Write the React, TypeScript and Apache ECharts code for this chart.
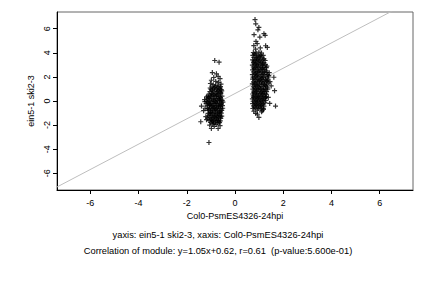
import React, { useEffect, useRef } from "react";
import * as echarts from "echarts";

const xTicks = [-6, -4, -2, 0, 2, 4, 6];
const yTicks = [-6, -4, -2, 0, 2, 4, 6];
const slope = 1.05;
const intercept = 0.62;
const xTitle = "Col0-PsmES4326-24hpi";
const yTitle = "ein5-1 ski2-3";
const subtitle1 = "yaxis: ein5-1 ski2-3, xaxis: Col0-PsmES4326-24hpi";
const subtitle2 = "Correlation of module: y=1.05x+0.62, r=0.61  (p-value:5.600e-01)";

const clusterA: number[][] = [
  [-0.84, 3.36], [-0.66, 3.22], [-0.94, 2.36], [-0.77, 2.25], [-0.7, 2.05], [-0.88, 1.95], [-0.62, 1.85],
  [-0.98, 1.72], [-0.8, 1.62], [-0.68, 1.55], [-1.02, 1.45], [-0.58, 1.4], [-0.9, 1.35], [-0.74, 1.3],
  [-1.39, -0.42], [-1.42, -1.72], [-1.25, -0.06], [-1.3, -0.8], [-1.18, 0.35], [-1.21, -1.3],
  [-1.08, -3.44], [-0.98, -2.28], [-0.7, -2.28], [-0.86, -2.1], [-0.62, -2.05], [-1.05, -2.0], [-0.78, -1.95], [-0.92, -1.9],
  [-0.95, 1.18], [-0.82, 1.22], [-0.71, 1.15], [-0.6, 1.2],
  [-1.0, 0.98], [-0.88, 1.04], [-0.77, 0.96], [-0.66, 1.02], [-0.57, 0.95],
  [-1.04, 0.78], [-0.93, 0.83], [-0.84, 0.76], [-0.73, 0.81], [-0.63, 0.77], [-0.55, 0.84],
  [-1.08, 0.58], [-0.97, 0.62], [-0.89, 0.55], [-0.79, 0.63], [-0.69, 0.57], [-0.59, 0.61],
  [-1.12, 0.42], [-1.01, 0.37], [-0.91, 0.44], [-0.82, 0.38], [-0.74, 0.43], [-0.64, 0.36], [-0.54, 0.41],
  [-1.15, 0.18], [-1.05, 0.22], [-0.96, 0.16], [-0.86, 0.23], [-0.77, 0.17], [-0.67, 0.21], [-0.58, 0.15],
  [-1.17, -0.02], [-1.07, 0.03], [-0.99, -0.04], [-0.9, 0.02], [-0.81, -0.03], [-0.72, 0.04], [-0.62, -0.01], [-0.53, 0.03],
  [-1.2, -0.22], [-1.1, -0.18], [-1.01, -0.23], [-0.93, -0.17], [-0.84, -0.21], [-0.75, -0.19], [-0.65, -0.24], [-0.56, -0.18],
  [-1.16, -0.41], [-1.06, -0.37], [-0.97, -0.43], [-0.88, -0.38], [-0.79, -0.42], [-0.7, -0.36], [-0.61, -0.44], [-0.52, -0.39],
  [-1.13, -0.62], [-1.03, -0.57], [-0.94, -0.63], [-0.85, -0.58], [-0.76, -0.61], [-0.67, -0.56], [-0.58, -0.64],
  [-1.1, -0.78], [-1.0, -0.83], [-0.91, -0.77], [-0.82, -0.82], [-0.73, -0.79], [-0.64, -0.84], [-0.55, -0.77],
  [-1.12, -1.02], [-1.02, -0.97], [-0.93, -1.03], [-0.84, -0.98], [-0.75, -1.04], [-0.66, -0.96], [-0.57, -1.01],
  [-1.09, -1.22], [-0.99, -1.18], [-0.9, -1.24], [-0.81, -1.17], [-0.72, -1.23], [-0.63, -1.19], [-0.55, -1.25],
  [-1.14, -1.41], [-1.04, -1.37], [-0.95, -1.43], [-0.86, -1.38], [-0.77, -1.42], [-0.68, -1.36], [-0.59, -1.44],
  [-1.07, -1.62], [-0.97, -1.57], [-0.88, -1.63], [-0.79, -1.58], [-0.7, -1.61], [-0.61, -1.65],
  [-1.01, -1.78], [-0.9, -1.83], [-0.81, -1.76], [-0.72, -1.81], [-0.64, -1.79],
  [-1.03, 1.08], [-0.85, 1.12], [-0.62, 1.08], [-0.95, 0.9], [-0.7, 0.88], [-0.59, 0.7], [-0.99, 0.5], [-0.76, 0.5],
  [-0.6, 0.28], [-1.1, 0.3], [-0.88, 0.1], [-0.64, 0.09], [-1.13, -0.1], [-0.79, -0.12], [-0.58, -0.3], [-1.05, -0.3],
  [-0.9, -0.5], [-0.69, -0.48], [-1.08, -0.7], [-0.8, -0.7], [-0.6, -0.9], [-0.96, -0.92], [-0.7, -1.1], [-1.05, -1.1],
  [-0.85, -1.3], [-0.6, -1.32], [-1.0, -1.5], [-0.74, -1.5], [-0.92, -1.7], [-0.67, -1.7], [-1.18, -1.55], [-1.24, -0.6],
  [-1.26, 0.12], [-0.5, -0.1], [-0.51, -0.6],
];

const clusterB: number[][] = [
  [0.83, 6.75], [0.86, 6.4], [0.99, 6.1], [0.95, 5.9], [0.79, 5.5], [1.03, 5.3], [1.2, 5.58], [1.25, 5.45],
  [0.87, 4.94], [0.92, 4.75], [1.27, 4.58], [1.34, 4.44], [0.78, 4.6], [1.05, 4.4], [0.85, 4.3],
  [1.61, 1.97], [1.64, 0.86], [1.68, -0.42], [1.45, 1.6], [1.5, 1.25], [1.42, 2.35], [1.38, 0.3], [1.44, -0.2],
  [0.86, -1.03], [0.99, -1.36], [0.78, -0.85], [1.1, -0.9], [0.93, -1.1], [1.18, -0.7],
  [0.76, 4.02], [0.88, 3.97], [0.99, 4.05], [1.1, 3.98],
  [0.74, 3.78], [0.84, 3.83], [0.95, 3.76], [1.06, 3.82], [1.17, 3.79],
  [0.78, 3.62], [0.89, 3.57], [1.0, 3.63], [1.12, 3.58],
  [0.73, 3.41], [0.83, 3.37], [0.94, 3.43], [1.05, 3.38], [1.16, 3.42], [1.25, 3.36],
  [0.77, 3.18], [0.87, 3.23], [0.98, 3.17], [1.09, 3.22], [1.2, 3.19],
  [0.72, 2.98], [0.82, 3.03], [0.92, 2.97], [1.03, 3.02], [1.14, 2.96], [1.26, 3.01],
  [0.76, 2.82], [0.86, 2.77], [0.97, 2.83], [1.08, 2.78], [1.19, 2.81], [1.3, 2.76],
  [0.73, 2.58], [0.83, 2.62], [0.93, 2.57], [1.04, 2.63], [1.15, 2.59], [1.24, 2.61],
  [0.77, 2.42], [0.88, 2.37], [0.98, 2.43], [1.09, 2.38], [1.2, 2.41], [1.32, 2.37],
  [0.72, 2.18], [0.82, 2.23], [0.93, 2.17], [1.03, 2.22], [1.13, 2.16], [1.23, 2.21], [1.35, 2.19],
  [0.75, 1.98], [0.86, 2.03], [0.96, 1.97], [1.07, 2.02], [1.18, 1.96], [1.28, 2.01], [1.38, 1.99],
  [0.73, 1.82], [0.84, 1.77], [0.94, 1.83], [1.05, 1.78], [1.15, 1.82], [1.26, 1.76], [1.36, 1.81],
  [0.77, 1.58], [0.88, 1.63], [0.99, 1.57], [1.1, 1.62], [1.21, 1.59], [1.31, 1.64],
  [0.72, 1.42], [0.82, 1.37], [0.92, 1.43], [1.02, 1.38], [1.12, 1.42], [1.23, 1.36], [1.33, 1.41],
  [0.76, 1.18], [0.87, 1.23], [0.97, 1.17], [1.08, 1.22], [1.19, 1.16], [1.29, 1.21],
  [0.74, 0.98], [0.85, 1.03], [0.95, 0.97], [1.06, 1.02], [1.16, 0.96], [1.27, 1.01], [1.36, 0.99],
  [0.78, 0.82], [0.89, 0.77], [1.0, 0.83], [1.11, 0.78], [1.22, 0.81], [1.31, 0.77],
  [0.73, 0.58], [0.83, 0.63], [0.94, 0.57], [1.04, 0.62], [1.15, 0.59], [1.25, 0.63],
  [0.76, 0.42], [0.87, 0.37], [0.98, 0.43], [1.09, 0.38], [1.19, 0.41], [1.29, 0.36],
  [0.72, 0.18], [0.82, 0.23], [0.93, 0.17], [1.03, 0.22], [1.14, 0.16], [1.24, 0.21],
  [0.75, -0.02], [0.86, 0.03], [0.96, -0.03], [1.07, 0.02], [1.18, -0.01], [1.28, 0.04],
  [0.73, -0.22], [0.84, -0.17], [0.94, -0.23], [1.05, -0.18], [1.16, -0.21],
  [0.77, -0.41], [0.88, -0.37], [0.98, -0.43], [1.09, -0.38], [1.2, -0.42],
  [0.74, -0.62], [0.85, -0.57], [0.96, -0.63], [1.07, -0.58], [1.17, -0.61],
  [0.8, 3.9], [1.03, 3.7], [0.9, 3.5], [1.2, 3.5], [0.78, 3.3], [1.0, 3.3], [1.14, 3.1], [0.87, 3.1],
  [1.32, 2.9], [0.9, 2.9], [1.13, 2.7], [0.79, 2.7], [1.29, 2.5], [1.0, 2.5], [0.85, 2.3], [1.16, 2.3],
  [1.4, 2.1], [0.9, 2.1], [1.1, 1.9], [0.8, 1.9], [1.33, 1.7], [1.0, 1.7], [0.82, 1.5], [1.16, 1.5],
  [1.4, 1.5], [0.92, 1.3], [1.25, 1.3], [1.03, 1.1], [0.8, 1.1], [1.34, 1.1], [1.18, 0.9], [0.9, 0.9],
  [0.78, 0.7], [1.08, 0.7], [1.3, 0.55], [0.88, 0.5], [1.13, 0.5], [0.99, 0.3], [1.26, 0.28], [0.77, 0.3],
  [1.12, 0.1], [0.9, 0.1], [0.8, -0.1], [1.02, -0.1], [1.24, -0.15], [0.9, -0.3], [1.12, -0.3], [0.8, -0.5],
  [1.03, -0.5], [0.92, -0.75], [1.13, -0.8],
];

const AX_MIN = -7.38;
const AX_MAX = 7.38;
const FONT = "'Liberation Sans', Arial, Helvetica, sans-serif";
const PLUS =
  "path://M-0.12,-0.5L0.12,-0.5L0.12,-0.12L0.5,-0.12L0.5,0.12L0.12,0.12L0.12,0.5L-0.12,0.5L-0.12,0.12L-0.5,0.12L-0.5,-0.12L-0.12,-0.12Z";

export default function App() {
  const ref = useRef<HTMLDivElement>(null);
  useEffect(() => {
    if (!ref.current) return;
    const chart = echarts.init(ref.current, null, { renderer: "svg" });
    const lineX = [-8, 8];
    const fitLine = lineX.map((x) => [x, slope * x + intercept]);
    chart.setOption({
      animation: false,
      backgroundColor: "#ffffff",
      textStyle: { fontFamily: FONT },
      grid: {
        left: 57,
        top: 12,
        width: 356,
        height: 178,
        show: true,
        borderColor: "#666666",
        borderWidth: 1,
        backgroundColor: "transparent",
      },
      xAxis: {
        type: "value",
        min: AX_MIN,
        max: AX_MAX,
        splitLine: { show: false },
        axisLine: { show: true, onZero: false, lineStyle: { color: "#000", width: 1 } },
        axisTick: { show: true, customValues: xTicks, length: 4, lineStyle: { color: "#000" } },
        axisLabel: { customValues: xTicks, fontSize: 9, color: "#000", margin: 8, fontFamily: FONT },
      },
      yAxis: {
        type: "value",
        min: AX_MIN,
        max: AX_MAX,
        splitLine: { show: false },
        axisLine: { show: true, onZero: false, lineStyle: { color: "#000", width: 1 } },
        axisTick: { show: true, customValues: yTicks, length: 4, lineStyle: { color: "#000" } },
        axisLabel: { customValues: yTicks, fontSize: 9, color: "#000", margin: 6, rotate: 90, fontFamily: FONT },
      },
      series: [
        {
          type: "line",
          data: fitLine,
          showSymbol: false,
          clip: true,
          lineStyle: { color: "#bebebe", width: 1 },
          z: 1,
        },
        {
          type: "scatter",
          data: clusterA,
          symbol: PLUS,
          symbolSize: 5,
          itemStyle: { color: "#000" },
          z: 2,
        },
        {
          type: "scatter",
          data: clusterB,
          symbol: PLUS,
          symbolSize: 5,
          itemStyle: { color: "#000" },
          z: 2,
        },
      ],
      graphic: [
        {
          type: "text",
          x: 31,
          y: 101,
          rotation: Math.PI / 2,
          style: { text: yTitle, fontSize: 9, fontFamily: FONT, fill: "#000", align: "center", verticalAlign: "middle" },
        },
        {
          type: "text",
          x: 235,
          y: 216,
          style: { text: xTitle, fontSize: 9, fontFamily: FONT, fill: "#000", align: "center", verticalAlign: "middle" },
        },
        {
          type: "text",
          x: 218,
          y: 235,
          style: { text: subtitle1, fontSize: 9.3, fontFamily: FONT, fill: "#000", align: "center", verticalAlign: "middle" },
        },
        {
          type: "text",
          x: 218,
          y: 251,
          style: { text: subtitle2, fontSize: 9.3, fontFamily: FONT, fill: "#000", align: "center", verticalAlign: "middle" },
        },
      ],
    });
    return () => chart.dispose();
  }, []);
  return (
    <div
      ref={ref}
      style={{ position: "fixed", left: 0, top: 0, width: 432, height: 288, background: "#fff" }}
    />
  );
}
